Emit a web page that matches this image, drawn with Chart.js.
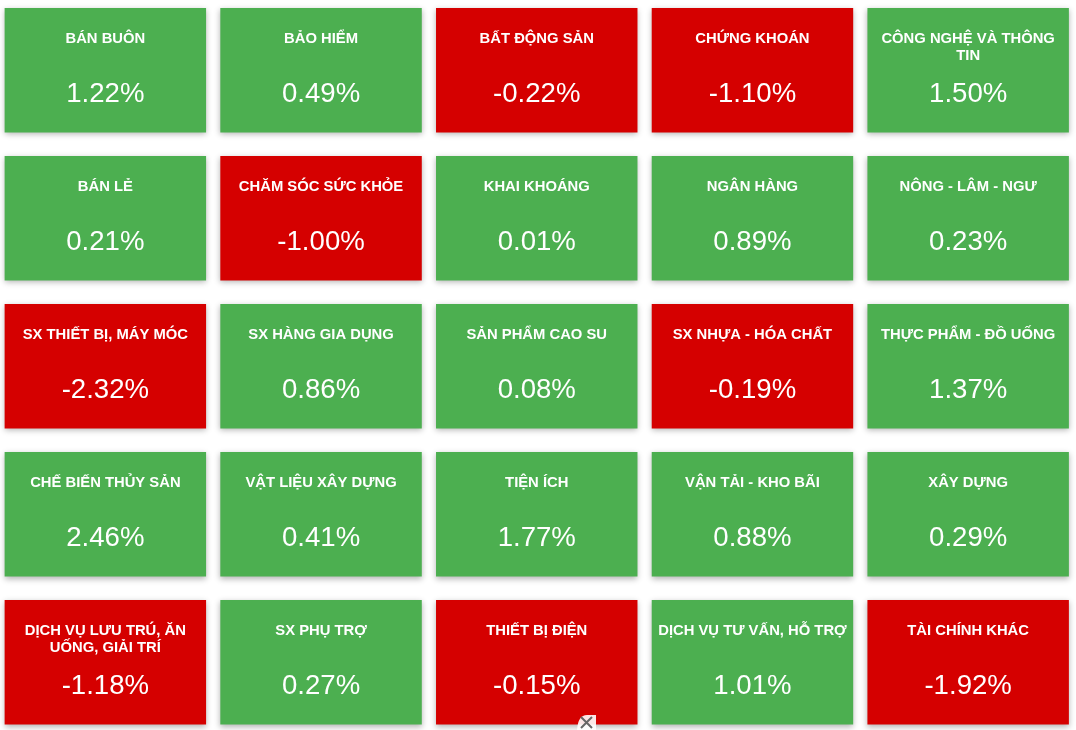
<!DOCTYPE html>
<html>
<head>
<meta charset="utf-8">
<title>Biến động nhóm ngành</title>
<script src="https://cdn.jsdelivr.net/npm/chart.js@4/dist/chart.umd.min.js"></script>
<style>
  html, body { margin: 0; padding: 0; background: #fff; overflow: hidden; }
  #wrap { position: absolute; left: -3px; top: 0; width: 1079px; height: 730px; }
</style>
</head>
<body>
<div id="wrap"><canvas id="tiles"></canvas></div>
<script>
const columns = ['1', '2', '3', '4', '5'];

const sectors = [
  'BÁN BUÔN', 'BẢO HIỂM', 'BẤT ĐỘNG SẢN', 'CHỨNG KHOÁN', 'CÔNG NGHỆ VÀ THÔNG TIN',
  'BÁN LẺ', 'CHĂM SÓC SỨC KHỎE', 'KHAI KHOÁNG', 'NGÂN HÀNG', 'NÔNG - LÂM - NGƯ',
  'SX THIẾT BỊ, MÁY MÓC', 'SX HÀNG GIA DỤNG', 'SẢN PHẨM CAO SU', 'SX NHỰA - HÓA CHẤT', 'THỰC PHẨM - ĐỒ UỐNG',
  'CHẾ BIẾN THỦY SẢN', 'VẬT LIỆU XÂY DỰNG', 'TIỆN ÍCH', 'VẬN TẢI - KHO BÃI', 'XÂY DỰNG',
  'DỊCH VỤ LƯU TRÚ, ĂN UỐNG, GIẢI TRÍ', 'SX PHỤ TRỢ', 'THIẾT BỊ ĐIỆN', 'DỊCH VỤ TƯ VẤN, HỖ TRỢ', 'TÀI CHÍNH KHÁC'
];

const changes = [
  1.22, 0.49, -0.22, -1.10, 1.50,
  0.21, -1.00, 0.01, 0.89, 0.23,
  -2.32, 0.86, 0.08, -0.19, 1.37,
  2.46, 0.41, 1.77, 0.88, 0.29,
  -1.18, 0.27, -0.15, 1.01, -1.92
];

const GREEN = '#4caf50';
const RED = '#d50000';
const tileSpan = 0.841; // share of a row taken by the tile, the rest is the gap

const colour = v => (v >= 0 ? GREEN : RED);

// one dataset per row of the grid, each tile is a floating bar
const rowDatasets = [];
for (let r = 0; r * columns.length < changes.length; r++) {
  const rowValues = changes.slice(r * columns.length, (r + 1) * columns.length);
  rowDatasets.push({
    label: 'row ' + (r + 1),
    data: rowValues.map(() => [r, r + tileSpan]),
    backgroundColor: rowValues.map(colour),
    borderWidth: 0,
    categoryPercentage: 1,
    barPercentage: 0.934
  });
}

function wrapName(ctx, text, maxWidth) {
  const lines = [];
  let line = '';
  text.split(' ').forEach(word => {
    const next = line ? line + ' ' + word : word;
    if (ctx.measureText(next).width > maxWidth && line) {
      lines.push(line);
      line = word;
    } else {
      line = next;
    }
  });
  lines.push(line);
  return lines;
}

const tileShadow = {
  id: 'tileShadow',
  beforeDatasetsDraw(chart) {
    const ctx = chart.ctx;
    ctx.save();
    ctx.shadowColor = 'rgba(0,0,0,0.3)';
    ctx.shadowBlur = 6;
    ctx.shadowOffsetY = 2;
  },
  afterDatasetsDraw(chart) {
    chart.ctx.restore();
  }
};

const tileText = {
  id: 'tileText',
  afterDraw(chart) {
    const ctx = chart.ctx;
    ctx.save();
    ctx.fillStyle = '#fff';
    ctx.textAlign = 'center';
    ctx.textBaseline = 'middle';
    chart.data.datasets.forEach((ds, r) => {
      chart.getDatasetMeta(r).data.forEach((bar, c) => {
        const i = r * columns.length + c;
        const props = bar.getProps(['x', 'y', 'base']);
        const top = Math.min(props.y, props.base);
        ctx.font = 'bold 14.8px "Liberation Sans", Arial, sans-serif';
        wrapName(ctx, sectors[i], 196).forEach((line, n) => {
          ctx.fillText(line, props.x, top + 31 + n * 16.5);
        });
        ctx.font = '27.6px "Liberation Sans", Arial, sans-serif';
        ctx.fillText(changes[i].toFixed(2) + '%', props.x, top + 86);
      });
    });
    // close button of the ad overlay sitting on the bottom edge (canvas is shifted 3px left)
    ctx.fillStyle = 'rgba(255,255,255,0.9)';
    ctx.beginPath();
    ctx.moveTo(580, 730);
    ctx.quadraticCurveTo(581, 715, 590, 715);
    ctx.lineTo(599, 715);
    ctx.lineTo(599, 730);
    ctx.closePath();
    ctx.fill();
    ctx.strokeStyle = '#666';
    ctx.lineWidth = 2;
    ctx.beginPath();
    ctx.moveTo(584, 717);
    ctx.lineTo(595, 728);
    ctx.moveTo(595, 717);
    ctx.lineTo(584, 728);
    ctx.stroke();
    ctx.restore();
  }
};

new Chart(document.getElementById('tiles'), {
  type: 'bar',
  data: { labels: columns, datasets: rowDatasets },
  options: {
    responsive: true,
    maintainAspectRatio: false,
    animation: false,
    layout: { padding: { left: 0.5 } },
    plugins: { legend: { display: false }, tooltip: { enabled: false } },
    scales: {
      x: { display: false, stacked: false },
      y: { display: false, reverse: true, min: -0.054, max: 4.878 }
    },
    datasets: { bar: { grouped: false } }
  },
  plugins: [tileShadow, tileText]
});
</script>
</body>
</html>
